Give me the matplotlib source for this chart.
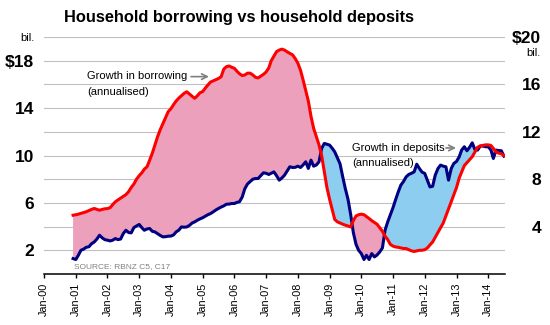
import numpy as np
import pandas as pd
import matplotlib
matplotlib.use('Agg')
import matplotlib.pyplot as plt
import matplotlib.dates as mdates

plt.rcParams['font.family'] = ['Liberation Sans', 'DejaVu Sans']

# monthly, Dec 2000 .. Jul 2014 (bil. NZD, annualised growth)
dates = pd.date_range('2000-12-01', '2014-07-01', freq='MS')

borrowing = [4.96,
    5.0, 5.05, 5.12, 5.18, 5.25, 5.35, 5.45, 5.53, 5.45, 5.38, 5.45, 5.5,
    5.52, 5.6, 5.85, 6.09, 6.25, 6.4, 6.55, 6.7, 6.95, 7.3, 7.6, 8.0,
    8.3, 8.55, 8.85, 9.05, 9.6, 10.2, 10.9, 11.6, 12.2, 12.7, 13.2, 13.7,
    13.95, 14.3, 14.6, 14.85, 15.05, 15.25, 15.38, 15.2, 15.0, 14.83, 15.05, 15.3,
    15.4, 15.7, 15.95, 16.2, 16.3, 16.4, 16.5, 16.65, 17.3, 17.5, 17.56, 17.45,
    17.36, 17.1, 16.9, 16.75, 16.8, 16.95, 16.95, 16.8, 16.6, 16.55, 16.7, 16.85,
    17.05, 17.4, 18.0, 18.4, 18.77, 18.9, 18.98, 18.9, 18.75, 18.63, 18.5, 18.2,
    17.8, 17.2, 16.4, 15.5, 14.6, 13.3, 12.3, 11.6, 10.9, 10.0, 8.6, 7.3,
    6.3, 5.4, 4.6, 4.4, 4.3, 4.2, 4.12, 4.05, 3.97, 4.5, 4.9, 5.0,
    5.05, 5.0, 4.85, 4.68, 4.5, 4.35, 4.2, 3.9, 3.6, 3.2, 2.9, 2.5,
    2.35, 2.28, 2.25, 2.2, 2.15, 2.15, 2.05, 1.95, 1.9, 1.95, 2.0, 2.0,
    2.05, 2.2, 2.45, 2.7, 3.1, 3.5, 3.9, 4.3, 4.9, 5.5, 6.1, 6.7,
    7.3, 8.1, 8.6, 9.15, 9.4, 9.65, 9.9, 10.3, 10.7, 10.8, 10.85, 10.9,
    10.9, 10.85, 10.6, 10.3, 10.2, 10.15, 10.0]

deposits = [1.3,
    1.22, 1.6, 2.0, 2.1, 2.25, 2.3, 2.55, 2.7, 2.95, 3.27, 3.05, 2.9,
    2.85, 2.79, 2.85, 2.99, 2.9, 2.95, 3.4, 3.69, 3.5, 3.47, 3.92, 4.05,
    4.18, 3.9, 3.69, 3.8, 3.84, 3.6, 3.55, 3.4, 3.25, 3.13, 3.15, 3.19,
    3.2, 3.3, 3.55, 3.7, 3.97, 3.95, 3.97, 4.1, 4.3, 4.4, 4.54, 4.65,
    4.75, 4.88, 5.0, 5.1, 5.24, 5.4, 5.53, 5.65, 5.75, 5.89, 5.9, 5.95,
    5.95, 6.05, 6.1, 6.5, 7.2, 7.6, 7.8, 8.0, 8.06, 8.06, 8.3, 8.54,
    8.5, 8.4, 8.5, 8.62, 8.3, 7.92, 8.1, 8.34, 8.7, 9.05, 8.99, 9.0,
    9.1, 8.99, 9.2, 9.47, 8.91, 9.61, 9.1, 9.2, 9.47, 10.6, 11.02, 10.95,
    10.88, 10.6, 10.31, 9.8, 9.3, 8.2, 7.2, 6.3, 5.0, 3.5, 2.5, 2.0,
    1.72, 1.22, 1.58, 1.22, 1.72, 1.44, 1.6, 1.86, 2.2, 3.69, 4.4, 5.0,
    5.6, 6.3, 6.9, 7.5, 7.8, 8.2, 8.4, 8.5, 8.62, 9.27, 8.9, 8.6,
    8.49, 7.9, 7.35, 7.4, 8.34, 8.9, 9.19, 9.1, 9.05, 7.92, 8.9, 9.33,
    9.5, 9.89, 10.46, 10.74, 10.4, 10.7, 11.07, 10.5, 10.46, 10.8, 10.8, 10.74,
    10.74, 10.46, 9.75, 10.46, 10.42, 10.4, 9.95]

left_ticks = [2, 4, 6, 8, 10, 12, 14, 16, 18, 20]
left_labels = ['2', '', '6', '', '10', '', '14', '', '$18', 'bil.']
right_ticks = [4, 8, 12, 16, 20]
right_labels = ['4', '8', '12', '16', '$20']

red = np.array(borrowing)
blue = np.array(deposits)
x = mdates.date2num(dates)

fig = plt.figure(figsize=(5.5, 3.25), dpi=100)
ax = fig.add_axes([0.08, 0.157, 0.838, 0.729])

ax.fill_between(x, red, blue, where=red >= blue, interpolate=True,
                color='#eca0bc', lw=0)
ax.fill_between(x, red, blue, where=blue > red, interpolate=True,
                color='#8ccdf0', lw=0)
ax.plot(x, blue, color='#000080', lw=2.2)
ax.plot(x, red, color='#ff0000', lw=2.2)

ax.set_ylim(0, 20)
ax.set_xlim(mdates.date2num(pd.Timestamp('2000-01-01')),
            mdates.date2num(pd.Timestamp('2014-07-12')))

# y axis (left)
ax.set_yticks(left_ticks)
ax.set_yticklabels(left_labels)
ax.tick_params(axis='y', length=0, pad=7)
for lbl in ax.get_yticklabels():
    lbl.set_fontsize(12.5)
    lbl.set_fontweight('bold')
ylbls = ax.get_yticklabels()
ylbls[-1].set_fontsize(8)
ylbls[-1].set_fontweight('normal')
ax.yaxis.grid(True, color='#c0c0c0', lw=0.8)
ax.set_axisbelow(True)

# x axis
ax.xaxis.set_major_locator(mdates.YearLocator())
ax.xaxis.set_major_formatter(mdates.DateFormatter('%b-%y'))
ax.tick_params(axis='x', direction='out', length=3, width=1, pad=3,
               labelsize=7.8, labelrotation=90)

for s in ['top', 'left', 'right']:
    ax.spines[s].set_visible(False)
ax.spines['bottom'].set_linewidth(1.1)

# y axis (right)
ax2 = ax.twinx()
ax2.set_ylim(0, 20)
ax2.set_yticks(right_ticks)
ax2.set_yticklabels(right_labels, fontsize=12.5, fontweight='bold')
ax2.tick_params(axis='y', length=0, pad=26)
for lbl in ax2.get_yticklabels():
    lbl.set_horizontalalignment('right')
for s in ['top', 'left', 'right', 'bottom']:
    ax2.spines[s].set_visible(False)
ax.text(1.078, 0.932, 'bil.', transform=ax.transAxes, ha='right',
        va='center', fontsize=8)

# annotations
ax.text(0.093, 0.835, 'Growth in borrowing', transform=ax.transAxes,
        fontsize=8, va='center')
ax.text(0.093, 0.768, '(annualised)', transform=ax.transAxes,
        fontsize=8, va='center')
ax.annotate('', xy=(0.364, 0.833), xytext=(0.313, 0.833),
            xycoords='axes fraction',
            arrowprops=dict(arrowstyle='->', color='#808080', lw=1.2))
ax.text(0.668, 0.532, 'Growth in deposits', transform=ax.transAxes,
        fontsize=8, va='center')
ax.text(0.668, 0.468, '(annualised)', transform=ax.transAxes,
        fontsize=8, va='center')
ax.annotate('', xy=(0.9, 0.532), xytext=(0.866, 0.532),
            xycoords='axes fraction',
            arrowprops=dict(arrowstyle='->', color='#808080', lw=1.2))
ax.text(0.065, 0.03, 'SOURCE: RBNZ C5, C17', transform=ax.transAxes,
        fontsize=6, color='#808080', va='center')

fig.text(0.435, 0.947, 'Household borrowing vs household deposits',
         ha='center', va='center', fontsize=11.8, fontweight='bold')

fig.savefig('out.png', dpi=100)
